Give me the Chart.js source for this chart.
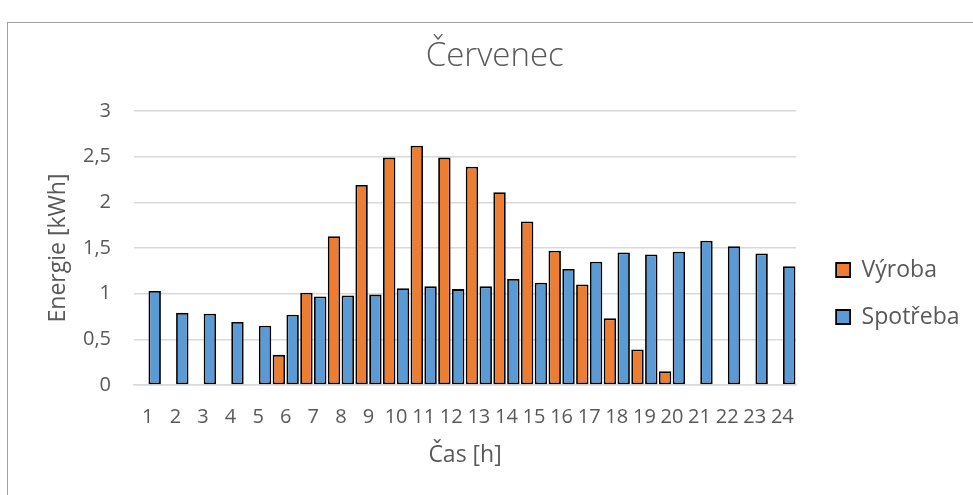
<!DOCTYPE html>
<html>
<head>
<meta charset="utf-8">
<script src="https://cdn.jsdelivr.net/npm/chart.js@4/dist/chart.umd.min.js"></script>
<style>
  html, body { margin: 0; padding: 0; background: #ffffff; overflow: hidden; }
  #wrap { position: relative; width: 973px; height: 495px; }
  #frame { position: absolute; left: 7px; top: 22px; width: 1000px; height: 600px;
           border: 1px solid #a0a0a0; box-sizing: border-box; }
  #c { position: absolute; left: 0; top: 0; }
</style>
</head>
<body>
<div id="wrap">
  <div id="frame"></div>
  <canvas id="c" width="973" height="495"></canvas>
</div>
<script>
const hours = ["1","2","3","4","5","6","7","8","9","10","11","12","13","14","15","16","17","18","19","20","21","22","23","24"];
const vyroba = [0, 0, 0, 0, 0, 0.33, 1.01, 1.63, 2.19, 2.49, 2.62, 2.49, 2.39, 2.11, 1.79, 1.47, 1.10, 0.73, 0.39, 0.15, 0, 0, 0, 0];
const spotreba = [1.03, 0.79, 0.78, 0.69, 0.65, 0.77, 0.97, 0.98, 0.99, 1.06, 1.08, 1.05, 1.08, 1.16, 1.12, 1.27, 1.35, 1.45, 1.43, 1.46, 1.58, 1.52, 1.44, 1.30];
const yTicks = [0, 0.5, 1, 1.5, 2, 2.5, 3];
const seriesNames = ["Výroba", "Spotřeba"];
const chartTitle = "Červenec";
const xTitle = "Čas [h]";
const yTitle = "Energie [kWh]";

const FONT = "'Open Sans', 'Noto Sans', sans-serif";
const TXT = "#595959";
Chart.defaults.font.family = FONT;
Chart.defaults.color = TXT;

new Chart(document.getElementById('c'), {
  type: 'bar',
  data: {
    labels: hours,
    datasets: [
      { label: seriesNames[0], data: vyroba, backgroundColor: '#ED7D31', borderColor: '#000000', borderWidth: 1.8, borderSkipped: false, yAxisID: 'y' },
      { label: seriesNames[1], data: spotreba, backgroundColor: '#5B9BD5', borderColor: '#000000', borderWidth: 1.8, borderSkipped: false, yAxisID: 'y' }
    ]
  },
  options: {
    responsive: false,
    animation: false,
    devicePixelRatio: 1,
    layout: { padding: { left: 20, right: 3.5, top: 0, bottom: 0 } },
    datasets: { bar: { categoryPercentage: 1.0, barPercentage: 0.9 } },
    plugins: {
      title: {
        display: true, text: chartTitle, color: TXT,
        font: { size: 33, weight: '300', family: FONT },
        padding: { top: 37, bottom: 34.4 }
      },
      legend: {
        display: true, position: 'right', align: 'start',
        title: { display: true, text: ' ', font: { size: 10 }, padding: { top: 222.5, bottom: 0 } },
        labels: {
          color: TXT, font: { size: 23, family: FONT },
          boxWidth: 14, boxHeight: 14, padding: 24
        }
      },
      tooltip: { enabled: false }
    },
    scales: {
      x: {
        grid: { display: false },
        border: { display: true, color: '#d9d9d9', width: 1.5 },
        ticks: { color: TXT, font: { size: 20 }, padding: 12, maxRotation: 0, autoSkip: false },
        title: { display: true, text: xTitle, color: TXT, font: { size: 23 }, padding: { top: 0, bottom: 26.2 } },
        afterFit: s => { s.height = 110; }
      },
      y: {
        min: 0, max: 3,
        afterBuildTicks: s => { s.ticks = yTicks.map(v => ({ value: v })); },
        grid: { color: '#d9d9d9', lineWidth: 1.5, drawTicks: false },
        border: { display: false },
        ticks: { color: TXT, font: { size: 20 }, padding: 23,
                 callback: v => String(v).replace('.', ',') },
        title: { display: true, text: yTitle, color: TXT, font: { size: 23 }, padding: { top: 24.2, bottom: 0 } },
        afterFit: s => { s.width = 114; }
      },
      yR: {
        position: 'right', display: true,
        grid: { display: false, drawTicks: false }, border: { display: false },
        ticks: { display: false },
        afterFit: s => { s.width = 16; }
      }
    }
  }
});
</script>
</body>
</html>
